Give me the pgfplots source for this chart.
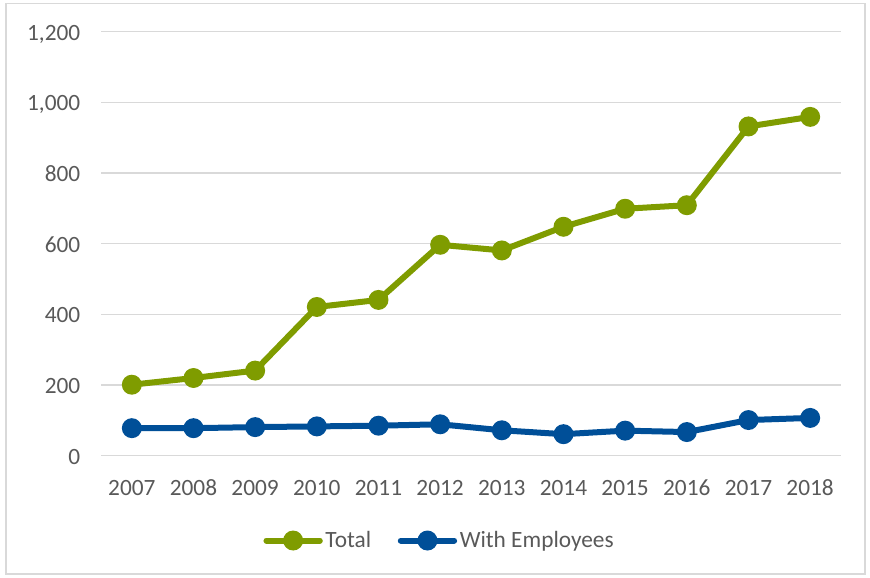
\documentclass[border=0pt]{standalone}
\usepackage{fontspec}
\setmainfont{Carlito}
\usepackage{pgfplots}
\pgfplotsset{compat=1.18}
\definecolor{tot}{HTML}{7F9C00}
\definecolor{emp}{HTML}{004F98}
\definecolor{txt}{HTML}{595959}
\definecolor{grd}{HTML}{D9D9D9}

\begin{document}
\begin{tikzpicture}
\path[use as bounding box] (-75.75pt,-91pt) rectangle (576.75pt,341.8pt);
\draw[grd, line width=0.8pt] (-71.25pt,-88.7pt) rectangle (573pt,339.5pt);
\begin{axis}[
  scale only axis,
  width=555pt, height=318pt,
  xmin=2006.5, xmax=2018.5, ymin=0, ymax=1200,
  xtick={2007,...,2018}, ytick={0,200,...,1200},
  xticklabel style={/pgf/number format/.cd, set thousands separator={}},
  yticklabel style={/pgf/number format/.cd, set thousands separator={,}},
  /pgf/number format/assume math mode=true,
  axis line style={draw=none},
  major tick length=0pt,
  ymajorgrids, major grid style={grd, line width=0.9pt},
  tick label style={font=\fontsize{17.5}{20}\selectfont, text=txt,
    text height=12.5pt, text depth=0pt},
  xticklabel shift=14pt, yticklabel shift=12pt,
  legend style={at={(0.458,-0.2)}, anchor=center, draw=none, fill=none,
    font=\fontsize{17.5}{20}\selectfont, text=txt, legend columns=2,
    /tikz/every even column/.append style={column sep=18pt}},
  legend image code/.code={
    \draw[#1, mark=none, line cap=round] (0pt,0pt) -- (40pt,0pt);
    \draw[#1, only marks] plot coordinates {(20pt,0pt)};
  },
  clip=false
]
\addplot[color=tot, line width=4.5pt, mark=*, mark size=5.2pt]
  coordinates {
    (2007,201)(2008,220)(2009,241)(2010,421)(2011,441)(2012,597)
    (2013,581)(2014,648)(2015,699)(2016,709)(2017,932)(2018,959)
  };
\addplot[color=emp, line width=4.5pt, mark=*, mark size=5.2pt]
  coordinates {
    (2007,78)(2008,78)(2009,81)(2010,83)(2011,85)(2012,89)
    (2013,72)(2014,61)(2015,71)(2016,67)(2017,101)(2018,107)
  };
\legend{Total, With Employees}
\end{axis}
\end{tikzpicture}
\end{document}
